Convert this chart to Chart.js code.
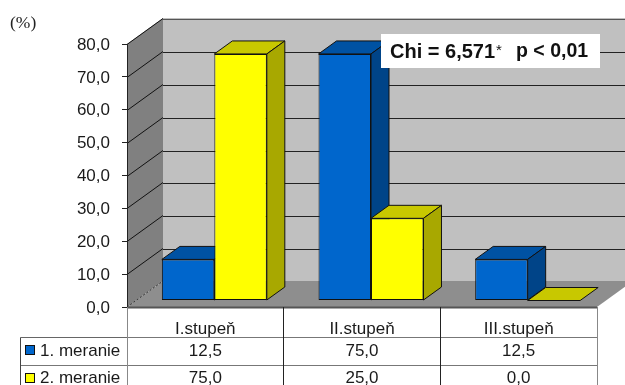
<!DOCTYPE html>
<html lang="sk">
<head>
<meta charset="utf-8">
<title>Chi</title>
<script src="https://cdn.jsdelivr.net/npm/chart.js@4/dist/chart.umd.min.js"></script>
<style>
  html, body { margin: 0; padding: 0; background: #fff; overflow: hidden; }
  canvas { display: block; }
</style>
</head>
<body>
<canvas id="stupneChart" width="625" height="385"></canvas>
<script>
const categories = ["I.stupeň", "II.stupeň", "III.stupeň"];
const seriesNames = ["1. meranie", "2. meranie"];
const meranie1 = [12.5, 75.0, 12.5];
const meranie2 = [75.0, 25.0, 0.0];
const valueTicks = [0, 10, 20, 30, 40, 50, 60, 70, 80];
const noteChi = "Chi = 6,571";
const noteStar = "*";
const noteP = "p < 0,01";
const unitLabel = "(%)";

const SANS = '"Liberation Sans", Arial, sans-serif';
const SERIF = '"Liberation Serif", "Times New Roman", serif';
const INK = "#1a1a1a";

// depth of the box and of the bars inside it
const WALL_DX = 36, WALL_DY = -26;
const BAR_DX = 18, BAR_DY = -13;
const SHIFT_X = 9, SHIFT_Y = -6.5;

const faces = [
  { front: "#0066CC", side: "#004488", top: "#0052A3" },
  { front: "#FFFF00", side: "#A8A800", top: "#C8C800" },
];

const fmt = (v) => v.toFixed(1).replace(".", ",");

function poly(ctx, pts, fill, stroke) {
  ctx.beginPath();
  pts.forEach(([x, y], i) => (i ? ctx.lineTo(x, y) : ctx.moveTo(x, y)));
  ctx.closePath();
  if (fill) {
    ctx.fillStyle = fill;
    ctx.fill();
  }
  if (stroke) {
    ctx.strokeStyle = stroke;
    ctx.lineWidth = 1;
    ctx.stroke();
  }
}

function segment(ctx, x0, y0, x1, y1, color, width = 1) {
  ctx.beginPath();
  ctx.moveTo(x0, y0);
  ctx.lineTo(x1, y1);
  ctx.strokeStyle = color;
  ctx.lineWidth = width;
  ctx.stroke();
}

// back wall, side wall, floor and their gridlines
const boxPlugin = {
  id: "box",
  beforeDraw(chart) {
    const { ctx, chartArea: a, scales } = chart;
    const { left, right, top, bottom } = a;
    const dx = WALL_DX, dy = WALL_DY;

    poly(ctx, [[left + dx, top + dy], [right + dx, top + dy], [right + dx, bottom + dy], [left + dx, bottom + dy]], "#C0C0C0");
    poly(ctx, [[left, top], [left + dx, top + dy], [left + dx, bottom + dy], [left, bottom]], "#808080");
    poly(ctx, [[left, bottom], [left + dx, bottom + dy], [right + dx, bottom + dy], [right, bottom]], "#8E8E8E");

    valueTicks.forEach((v) => {
      const y = Math.round(scales.y.getPixelForValue(v)) + 0.5;
      if (v > 0) {
        segment(ctx, left, y, left + dx, y + dy, "#111");
        segment(ctx, left + dx, Math.round(y + dy) + 0.5, right + dx, Math.round(y + dy) + 0.5, v === 80 ? "#555" : "#222");
      }
    });
    ctx.save();
    ctx.setLineDash([2, 2]);
    segment(ctx, left, bottom, left + dx, bottom + dy, "#333");
    ctx.restore();
    segment(ctx, left, bottom + 0.5, right, bottom + 0.5, "#555", 2);
  },
  // side and top faces go first, so each front face covers what lies behind it
  beforeDatasetsDraw(chart) {
    const { ctx } = chart;
    ctx.save();
    ctx.translate(SHIFT_X, SHIFT_Y);
    faces.forEach((c, d) => {
      chart.getDatasetMeta(d).data.forEach((bar) => {
        const x0 = bar.x - bar.width / 2;
        const x1 = bar.x + bar.width / 2;
        const y = bar.y, b = bar.base;
        poly(ctx, [[x0, y], [x0 + BAR_DX, y + BAR_DY], [x1 + BAR_DX, y + BAR_DY], [x1, y]], c.top, "#111");
        if (b - y > 0) {
          poly(ctx, [[x1, y], [x1 + BAR_DX, y + BAR_DY], [x1 + BAR_DX, b + BAR_DY], [x1, b]], c.side, "#111");
        }
      });
    });
    ctx.restore();
  },
  // bars sit a little behind the front edge of the floor
  beforeDatasetDraw(chart) {
    chart.ctx.save();
    chart.ctx.translate(SHIFT_X, SHIFT_Y);
  },
  afterDatasetDraw(chart) {
    chart.ctx.restore();
  },
  afterDraw(chart) {
    const { ctx, chartArea: a, scales } = chart;
    const { left, right, bottom } = a;
    const bandW = (right - left) / categories.length;
    const rows = [337.5, 365.5];
    const rowText = [351, 378];
    const seriesValues = [meranie1, meranie2];

    // data table under the axis
    segment(ctx, 20.5, rows[0], left, rows[0], "#666");
    segment(ctx, 20.5, rows[1], left, rows[1], "#777");
    segment(ctx, 20.5, rows[0], 20.5, 385, "#444");
    rows.forEach((y) => segment(ctx, left, y, right, y, "#777"));
    segment(ctx, left + 0.5, bottom, left + 0.5, 385, "#888");
    segment(ctx, right + 0.5, bottom, right + 0.5, 385, "#888");
    for (let i = 1; i < categories.length; i++) {
      const x = Math.floor(left + i * bandW) + 0.5;
      segment(ctx, x, bottom, x, 385, "#222");
    }

    ctx.textBaseline = "middle";
    ctx.font = "17px " + SANS;
    ctx.fillStyle = INK;
    seriesValues.forEach((vals, r) => {
      ctx.textAlign = "left";
      ctx.fillText(seriesNames[r], 40, rowText[r]);
      ctx.textAlign = "center";
      vals.forEach((v, i) => {
        ctx.fillText(fmt(v), scales.x.getPixelForValue(i), rowText[r]);
      });
    });
    seriesValues.forEach((_, r) => {
      const keyY = r === 0 ? 345.5 : 373.5;
      ctx.fillStyle = faces[r].front;
      ctx.fillRect(25.5, keyY, 9, 9);
      ctx.strokeStyle = "#111";
      ctx.lineWidth = 1;
      ctx.strokeRect(25.5, keyY, 9, 9);
    });

    // statistic box, the asterisk is lighter than the rest
    ctx.fillStyle = "#fff";
    ctx.fillRect(381, 34, 219, 34);
    ctx.fillStyle = "#111";
    ctx.textAlign = "left";
    ctx.font = "bold 20px " + SANS;
    ctx.fillText(noteChi, 390, 52);
    ctx.font = "bold 19.5px " + SANS;
    ctx.fillText(noteP, 516, 52);
    ctx.font = "15px " + SANS;
    ctx.fillText(noteStar, 496, 51);

    // unit label
    ctx.font = "17.5px " + SERIF;
    ctx.fillStyle = "#222";
    ctx.fillText(unitLabel, 10, 23);
  },
};

new Chart(document.getElementById("stupneChart"), {
  type: "bar",
  data: {
    labels: categories,
    datasets: [
      {
        label: seriesNames[0],
        data: meranie1,
        backgroundColor: faces[0].front,
        borderColor: "#111",
        borderWidth: 1,
        borderSkipped: false,
      },
      {
        label: seriesNames[1],
        data: meranie2,
        backgroundColor: faces[1].front,
        borderColor: "#111",
        borderWidth: 1,
        borderSkipped: false,
      },
    ],
  },
  options: {
    responsive: false,
    animation: false,
    events: [],
    layout: { padding: { top: 44, right: 28, left: 0, bottom: 0 } },
    datasets: { bar: { barPercentage: 1, categoryPercentage: 0.67, clip: false } },
    plugins: {
      legend: { display: false },
      title: { display: false },
      tooltip: { enabled: false },
    },
    scales: {
      x: {
        afterFit(scale) {
          scale.height = 78;
        },
        grid: { display: false },
        border: { display: false },
        ticks: {
          color: INK,
          font: { family: SANS, size: 17 },
          padding: 4,
          maxRotation: 0,
        },
      },
      y: {
        min: 0,
        max: 80,
        afterBuildTicks(scale) {
          scale.ticks = valueTicks.map((value) => ({ value }));
        },
        afterFit(scale) {
          scale.width = 127;
        },
        grid: { drawOnChartArea: false, tickLength: 5, color: "#222" },
        border: { color: "#222" },
        ticks: {
          color: INK,
          font: { family: SANS, size: 17 },
          padding: 12,
          labelOffset: 1,
          callback: (v) => fmt(v),
        },
      },
    },
  },
  plugins: [boxPlugin],
});
</script>
</body>
</html>
